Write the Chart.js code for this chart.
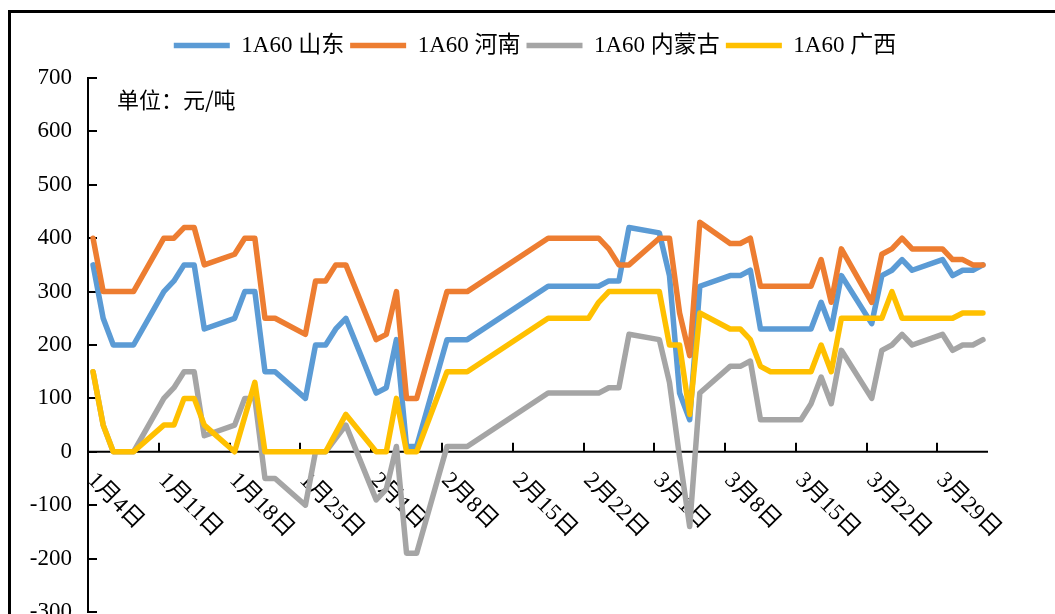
<!DOCTYPE html>
<html>
<head>
<meta charset="utf-8">
<script src="https://cdn.jsdelivr.net/npm/chart.js@4.4.1/dist/chart.umd.min.js"></script>
<style>
  html, body { margin: 0; padding: 0; background: #fff; overflow: hidden; }
  #wrap { width: 1055px; height: 614px; overflow: hidden; }
</style>
</head>
<body>
<div id="wrap"><canvas id="chart" width="1055" height="660"></canvas></div>
<script>
  // trading days (month-day)
  const dates = [
    '01-04','01-05','01-06','01-07','01-08',
    '01-11','01-12','01-13','01-14','01-15',
    '01-18','01-19','01-20','01-21','01-22',
    '01-25','01-26','01-27','01-28','01-29',
    '02-01','02-02','02-03','02-04','02-05',
    '02-08','02-09','02-10',
    '02-18','02-19','02-22','02-23','02-24','02-25','02-26',
    '03-01','03-02','03-03','03-04','03-05',
    '03-08','03-09','03-10','03-11','03-12',
    '03-15','03-16','03-17','03-18','03-19',
    '03-22','03-23','03-24','03-25','03-26',
    '03-29','03-30','03-31','04-01','04-02'
  ];

  const shandong = [
    350, 250, 200, 200, 200,
    300, 320, 350, 350, 230,
    250, 300, 300, 150, 150,
    100, 200, 200, 230, 250,
    110, 120, 210, 10, 10,
    210, 210, 210,
    310, 310, 310, 310, 320, 320, 420,
    410, 330, 110, 60, 310,
    330, 330, 340, 230, 230,
    230, 230, 280, 230, 330,
    240, 330, 340, 360, 340,
    360, 330, 340, 340, 350
  ];
  const henan = [
    400, 300, 300, 300, 300,
    400, 400, 420, 420, 350,
    370, 400, 400, 250, 250,
    220, 320, 320, 350, 350,
    210, 220, 300, 100, 100,
    300, 300, 300,
    400, 400, 400, 400, 380, 350, 350,
    400, 400, 260, 180, 430,
    390, 390, 400, 310, 310,
    310, 310, 360, 280, 380,
    280, 370, 380, 400, 380,
    380, 360, 360, 350, 350
  ];
  const neimenggu = [
    150, 50, 0, 0, 0,
    100, 120, 150, 150, 30,
    50, 100, 100, -50, -50,
    -100, 0, 0, 25, 50,
    -90, -70, 10, -190, -190,
    10, 10, 10,
    110, 110, 110, 110, 120, 120, 220,
    210, 130, -10, -140, 110,
    160, 160, 170, 60, 60,
    60, 90, 140, 90, 190,
    100, 190, 200, 220, 200,
    220, 190, 200, 200, 210
  ];
  const guangxi = [
    150, 50, 0, 0, 0,
    50, 50, 100, 100, 50,
    0, 65, 130, 0, 0,
    0, 0, 0, 35, 70,
    0, 0, 100, 0, 0,
    150, 150, 150,
    250, 250, 250, 280, 300, 300, 300,
    300, 200, 200, 70, 260,
    230, 230, 210, 160, 150,
    150, 150, 200, 150, 250,
    250, 250, 300, 250, 250,
    250, 250, 260, 260, 260
  ];

  const xTickLabels = ['1月4日','1月11日','1月18日','1月25日','2月1日','2月8日','2月15日',
                       '2月22日','3月1日','3月8日','3月15日','3月22日','3月29日'];
  const yMin = -300, yMax = 700, yStep = 100;

  // day offset from Jan 4
  const monthStart = [0, 31, 59, 90];
  function dayOf(s) {
    const [m, d] = s.split('-').map(Number);
    return monthStart[m - 1] + d - 4;
  }
  const pts = arr => arr.map((v, i) => ({ x: dayOf(dates[i]) + 0.5, y: v }));

  const serif = "'Liberation Serif', 'Noto Sans CJK SC', serif";

  const frame = {
    id: 'frame',
    beforeInit(chart) {
      // a bit more room under the legend
      const fit = chart.legend.fit;
      chart.legend.fit = function () {
        fit.call(this);
        this.height += 11;
      };
    },
    afterLayout(chart) {
      // centre the legend over the same span as the reference
      chart.legend.left = 82;
    },
    beforeDraw(chart) {
      const ctx = chart.ctx;
      ctx.save();
      ctx.fillStyle = '#fff';
      ctx.fillRect(0, 0, chart.width, chart.height);
      ctx.strokeStyle = '#000';
      ctx.lineWidth = 3;
      ctx.beginPath();
      ctx.moveTo(9.5, chart.height);
      ctx.lineTo(9.5, 11.5);
      ctx.lineTo(chart.width, 11.5);
      ctx.stroke();
      ctx.restore();
    },
    beforeDatasetsDraw(chart) {
      const { ctx, chartArea, scales: { x, y } } = chart;
      const y0 = y.getPixelForValue(0);
      ctx.save();
      ctx.strokeStyle = '#000';
      ctx.lineWidth = 2;
      // zero axis
      ctx.beginPath();
      ctx.moveTo(chartArea.left, y0);
      ctx.lineTo(chartArea.right, y0);
      ctx.stroke();
      // y ticks (inside)
      for (let v = yMin; v <= yMax; v += yStep) {
        const py = Math.round(y.getPixelForValue(v));
        ctx.beginPath();
        ctx.moveTo(chartArea.left, py);
        ctx.lineTo(chartArea.left + 9, py);
        ctx.stroke();
      }
      // x ticks and rotated labels
      ctx.fillStyle = '#000';
      ctx.font = '23px ' + serif;
      ctx.textAlign = 'left';
      ctx.textBaseline = 'middle';
      xTickLabels.forEach((lab, i) => {
        const px = Math.round(x.getPixelForValue(i * 7));
        ctx.beginPath();
        ctx.moveTo(px, y0);
        ctx.lineTo(px, y0 - 9);
        ctx.stroke();
        ctx.save();
        ctx.translate(px + 3, y0 + 25);
        ctx.rotate(Math.PI / 4);
        ctx.fillText(lab, 0, 0);
        ctx.restore();
      });
      // unit
      ctx.font = "22px 'Noto Sans CJK SC', sans-serif";
      ctx.fillText('单位：元/吨', chartArea.left + 29, chartArea.top + 22);
      ctx.restore();
    }
  };

  const common = { borderWidth: 5.5, pointRadius: 0, fill: false, tension: 0,
                   borderJoinStyle: 'round', borderCapStyle: 'round', pointStyle: 'line' };

  new Chart(document.getElementById('chart'), {
    type: 'line',
    data: {
      datasets: [
        { ...common, label: '1A60 山东', data: pts(shandong), borderColor: '#5B9BD5', backgroundColor: '#5B9BD5', order: 3 },
        { ...common, label: '1A60 河南', data: pts(henan), borderColor: '#ED7D31', backgroundColor: '#ED7D31', order: 2 },
        { ...common, label: '1A60 内蒙古', data: pts(neimenggu), borderColor: '#A5A5A5', backgroundColor: '#A5A5A5', order: 1 },
        { ...common, label: '1A60 广西', data: pts(guangxi), borderColor: '#FFC000', backgroundColor: '#FFC000', order: 0 }
      ]
    },
    options: {
      responsive: false,
      animation: false,
      layout: { padding: { top: 28, left: 0, right: 67, bottom: 48 } },
      plugins: {
        tooltip: { enabled: false },
        legend: {
          position: 'top',
          labels: {
            usePointStyle: true,
            pointStyleWidth: 56,
            boxHeight: 6,
            padding: 6,
            color: '#000',
            font: { family: serif, size: 23 },
            sort: (a, b) => a.datasetIndex - b.datasetIndex
          }
        }
      },
      scales: {
        x: { type: 'linear', min: 0, max: 89, display: false },
        y: {
          min: yMin, max: yMax,
          afterFit: s => { s.width = 88; },
          grid: { display: false, drawTicks: false },
          border: { display: true, color: '#000', width: 2 },
          ticks: { stepSize: yStep, padding: 16, color: '#000', font: { family: serif, size: 23 } }
        }
      }
    },
    plugins: [frame]
  });
</script>
</body>
</html>
